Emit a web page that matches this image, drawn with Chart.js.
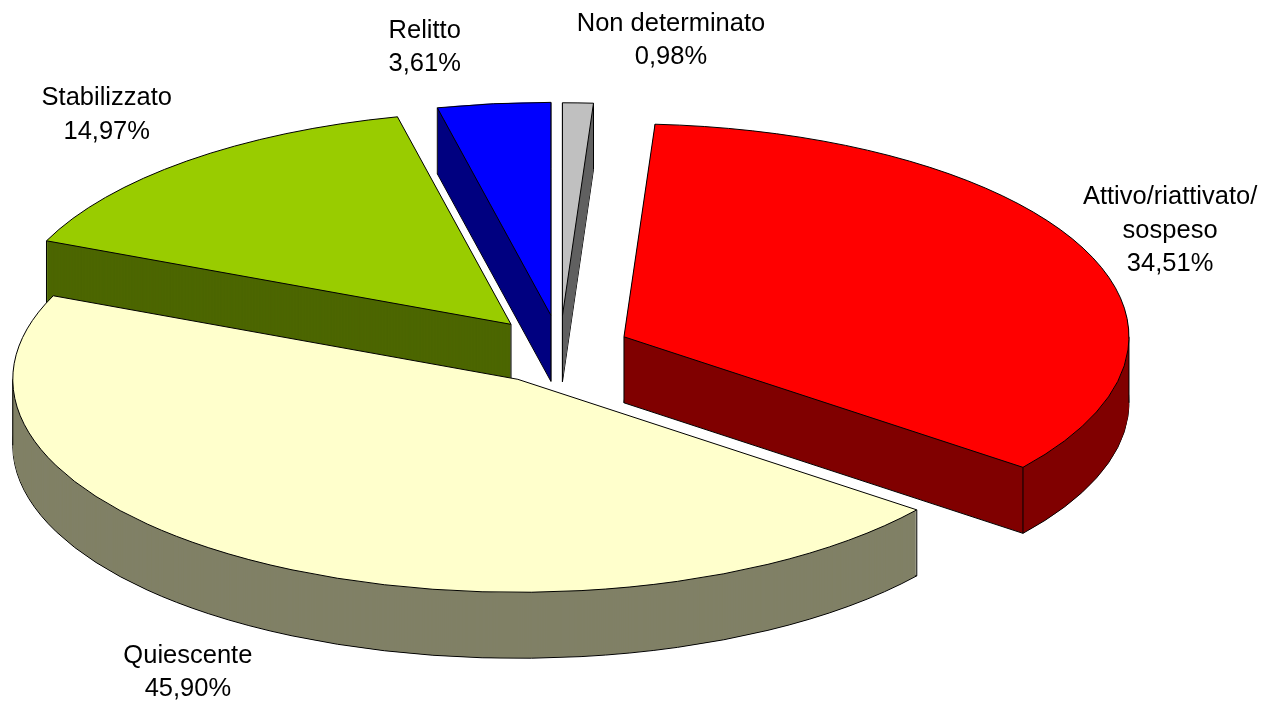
<!DOCTYPE html>
<html>
<head>
<meta charset="utf-8">
<script src="https://cdn.jsdelivr.net/npm/chart.js@4.4.1/dist/chart.umd.min.js"></script>
<style>
  html, body { margin: 0; padding: 0; background: #fff; }
  canvas { display: block; }
</style>
</head>
<body>
<canvas id="pie-chart" width="1269" height="703"></canvas>
<script>
// Dati (percentuali)
const categories = ['Non determinato', ['Attivo/riattivato/', 'sospeso'], 'Quiescente', 'Stabilizzato', 'Relitto'];
const values = [0.98, 34.51, 45.90, 14.97, 3.61];

// Colori faccia superiore / fianchi
const topColors = ['#C0C0C0', '#FF0000', '#FFFFCC', '#99CC00', '#0000FF'];
const sideColors = ['#606060', '#800000', '#808066', '#4C6600', '#000080'];

// esplosione delle fette (frazione del raggio)
const explode = [0.156, 0.139, 0.165, 0.151, 0.159];
// spostamento etichette rispetto al bordo esterno della fetta
const labelNudge = [[93, -72], [86, -45], [-74, 100], [-80, -56], [-69, -66]];

// proiezione 3D
const pie = { cx: 560, cy: 349, rx: 505, ry: 213, depth: 66 };
const FONT = '25.5px "Liberation Sans", Arial, sans-serif';
const LINE_H = 33.5;

const pie3d = {
  id: 'pie3d',
  beforeDatasetsDraw(chart) {
    const ctx = chart.ctx;
    const arcs = chart.getDatasetMeta(0).data;
    const slices = arcs.map((arc, i) => {
      const mid = (arc.startAngle + arc.endAngle) / 2;
      return {
        i, start: arc.startAngle, end: arc.endAngle, mid,
        x: pie.cx + Math.cos(mid) * explode[i] * pie.rx,
        y: pie.cy + Math.sin(mid) * explode[i] * pie.ry,
      };
    });

    const path = (s, dz) => {
      ctx.beginPath();
      ctx.moveTo(s.x, s.y + dz);
      ctx.ellipse(s.x, s.y + dz, pie.rx, pie.ry, 0, s.start, s.end);
      ctx.closePath();
    };
    const edge = (s, a) => [s.x + Math.cos(a) * pie.rx, s.y + Math.sin(a) * pie.ry];

    ctx.save();
    ctx.lineWidth = 1;
    ctx.strokeStyle = '#000';
    ctx.lineJoin = 'round';

    // fianchi, da dietro verso davanti
    const order = slices.slice().sort((a, b) => a.y - b.y);
    order.forEach(s => {
      ctx.fillStyle = sideColors[s.i];
      path(s, pie.depth);
      ctx.fill();
      ctx.stroke();
      for (let dz = pie.depth - 1; dz > 0; dz--) {
        path(s, dz);
        ctx.fill();
      }
      // spigoli verticali
      const pts = [[s.x, s.y], edge(s, s.start), edge(s, s.end)];
      [0, Math.PI].forEach(a => {
        if (a > s.start && a < s.end) pts.push(edge(s, a));
      });
      ctx.beginPath();
      pts.forEach(p => {
        ctx.moveTo(p[0], p[1]);
        ctx.lineTo(p[0], p[1] + pie.depth);
      });
      ctx.stroke();
    });

    // facce superiori
    order.forEach(s => {
      ctx.fillStyle = topColors[s.i];
      path(s, 0);
      ctx.fill();
      ctx.stroke();
    });

    // etichette
    ctx.fillStyle = '#000';
    ctx.font = FONT;
    ctx.textAlign = 'center';
    ctx.textBaseline = 'alphabetic';
    slices.forEach(s => {
      const p = edge(s, s.mid);
      const name = categories[s.i];
      const lines = Array.isArray(name) ? name.slice() : [name];
      lines.push(values[s.i].toFixed(2).replace('.', ',') + '%');
      const lx = p[0] + labelNudge[s.i][0];
      const ly = p[1] + labelNudge[s.i][1];
      lines.forEach((t, k) => ctx.fillText(t, lx, ly + k * LINE_H));
    });

    ctx.restore();
    return false;
  }
};

new Chart(document.getElementById('pie-chart').getContext('2d'), {
  type: 'pie',
  data: {
    labels: categories,
    datasets: [{
      data: values,
      backgroundColor: topColors,
      borderWidth: 0,
    }],
  },
  options: {
    responsive: false,
    animation: false,
    rotation: 0,
    plugins: {
      legend: { display: false },
      tooltip: { enabled: false },
    },
  },
  plugins: [pie3d],
});
</script>
</body>
</html>
